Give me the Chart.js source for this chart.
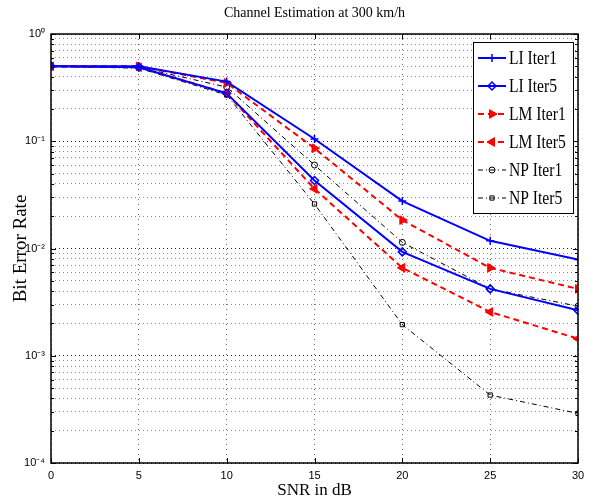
<!DOCTYPE html>
<html>
<head>
<meta charset="utf-8">
<script src="https://cdn.jsdelivr.net/npm/chart.js@4.4.1/dist/chart.umd.min.js"></script>
<style>
  html, body { margin: 0; padding: 0; background: #fff; }
  #wrap { width: 595px; height: 501px; }
</style>
</head>
<body>
<div id="wrap"><canvas id="myChart" width="595" height="501"></canvas></div>
<script>
// SNR points (dB)
const snr = [0, 5, 10, 15, 20, 25, 30];

// BER values
const liIter1 = [0.50, 0.50, 0.36, 0.105, 0.0277, 0.0118, 0.0079];
const liIter5 = [0.50, 0.49, 0.28, 0.043, 0.0093, 0.0042, 0.00265];
const lmIter1 = [0.50, 0.50, 0.35, 0.086, 0.0184, 0.0066, 0.0042];
const lmIter5 = [0.50, 0.49, 0.28, 0.036, 0.0066, 0.00256, 0.00144];
const npIter1 = [0.50, 0.49, 0.32, 0.060, 0.0114, 0.0042, 0.0029];
const npIter5 = [0.50, 0.48, 0.27, 0.026, 0.00195, 0.00043, 0.00029];

const xTicks = [0, 5, 10, 15, 20, 25, 30];
const yDecades = [-4, -3, -2, -1, 0];
const chartTitle = 'Channel Estimation at 300 km/h';

const serif = '"Liberation Serif", "Times New Roman", serif';
const sans = '"Liberation Sans Narrow", "Liberation Sans", Arial, sans-serif';

const sup = {'-': '\u207B', '0': '\u2070', '1': '\u00B9', '2': '\u00B2', '3': '\u00B3', '4': '\u2074'};
function pow10Label(e) {
  return '10' + String(e).split('').map(c => sup[c]).join('');
}
function isDecade(v) {
  return Math.abs(Math.log10(v) - Math.round(Math.log10(v))) < 1e-9;
}

function pts(arr) {
  return snr.map((x, i) => ({x: x, y: arr[i]}));
}

const datasets = [
  {label: 'LI Iter1', data: pts(liIter1), borderColor: '#0000ff', backgroundColor: '#0000ff',
   borderWidth: 2, pointStyle: 'cross', pointRadius: 4, pointBorderWidth: 1.5},
  {label: 'LI Iter5', data: pts(liIter5), borderColor: '#0000ff', backgroundColor: 'rgba(0,0,0,0)',
   borderWidth: 2, pointStyle: 'rectRot', pointRadius: 4, pointBorderWidth: 1.5},
  {label: 'LM Iter1', data: pts(lmIter1), borderColor: '#ff0000', backgroundColor: '#ff0000',
   borderWidth: 2, borderDash: [6, 4], pointStyle: 'triangle', pointRotation: 90, pointRadius: 5, pointBorderWidth: 1},
  {label: 'LM Iter5', data: pts(lmIter5), borderColor: '#ff0000', backgroundColor: '#ff0000',
   borderWidth: 2, borderDash: [6, 4], pointStyle: 'triangle', pointRotation: -90, pointRadius: 5, pointBorderWidth: 1},
  {label: 'NP Iter1', data: pts(npIter1), borderColor: '#000000', backgroundColor: 'rgba(0,0,0,0)',
   borderWidth: 1, borderDash: [5, 3, 1, 3], pointStyle: 'circle', pointRadius: 3, pointBorderWidth: 1},
  {label: 'NP Iter5', data: pts(npIter5), borderColor: '#000000', backgroundColor: 'rgba(0,0,0,0)',
   borderWidth: 1, borderDash: [5, 3, 1, 3], pointStyle: 'rect', pointRadius: 3, pointBorderWidth: 1}
];
datasets.forEach(d => {
  d.pointBackgroundColor = d.backgroundColor;
  d.pointBorderColor = d.borderColor;
  d.tension = 0;
  d.fill = false;
});

// box, inward tick marks, title and legend, MATLAB style
const frame = {
  id: 'frame',
  afterDatasetsDraw(chart) {
    const ctx = chart.ctx, a = chart.chartArea;
    const xs = chart.scales.x, ys = chart.scales.y;
    ctx.save();
    ctx.strokeStyle = '#000';
    ctx.lineWidth = 1;
    ctx.beginPath();
    xTicks.forEach(v => {
      const px = Math.round(xs.getPixelForValue(v)) + 0.5;
      ctx.moveTo(px, a.bottom); ctx.lineTo(px, a.bottom - 5);
      ctx.moveTo(px, a.top); ctx.lineTo(px, a.top + 5);
    });
    ys.ticks.forEach(t => {
      const py = Math.round(ys.getPixelForValue(t.value)) + 0.5;
      const len = isDecade(t.value) ? 5 : 3;
      ctx.moveTo(a.left, py); ctx.lineTo(a.left + len, py);
      ctx.moveTo(a.right, py); ctx.lineTo(a.right - len, py);
    });
    ctx.stroke();
    ctx.lineWidth = 1.5;
    ctx.strokeRect(a.left, a.top, a.right - a.left, a.bottom - a.top);

    // title, centred over the axes
    ctx.fillStyle = '#000';
    ctx.font = '14px ' + serif;
    ctx.textAlign = 'center';
    ctx.textBaseline = 'middle';
    ctx.fillText(chartTitle, (a.left + a.right) / 2, 13);

    // legend box
    const lx = a.right - 105, ly = a.top + 8, lw = 100, lh = 171;
    ctx.fillStyle = '#fff';
    ctx.fillRect(lx, ly, lw, lh);
    ctx.lineWidth = 1;
    ctx.strokeStyle = '#000';
    ctx.strokeRect(lx + 0.5, ly + 0.5, lw, lh);
    ctx.textAlign = 'left';
    chart.data.datasets.forEach((d, i) => {
      const cy = ly + 16 + i * 28;
      ctx.save();
      ctx.strokeStyle = d.borderColor;
      ctx.lineWidth = d.borderWidth;
      ctx.setLineDash(d.borderDash || []);
      ctx.beginPath();
      ctx.moveTo(lx + 5, cy); ctx.lineTo(lx + 33, cy);
      ctx.stroke();
      ctx.setLineDash([]);
      ctx.fillStyle = d.backgroundColor;
      ctx.lineWidth = d.pointBorderWidth;
      Chart.helpers.drawPoint(ctx, {pointStyle: d.pointStyle, radius: d.pointRadius,
        rotation: d.pointRotation || 0, borderWidth: d.pointBorderWidth}, lx + 19, cy);
      ctx.restore();
      ctx.save();
      ctx.fillStyle = '#000';
      ctx.font = '19px ' + serif;
      ctx.translate(lx + 36, cy + 1);
      ctx.scale(0.82, 1);
      ctx.fillText(d.label, 0, 0);
      ctx.restore();
    });
    ctx.restore();
  }
};

const gridColor = c => (c.tick && isDecade(c.tick.value)) ? 'rgba(0,0,0,0.85)' : 'rgba(0,0,0,0.45)';

const config = {
  type: 'line',
  data: {datasets: datasets},
  options: {
    responsive: false,
    animation: false,
    layout: {padding: {top: 34, right: 17, left: 0, bottom: 0}},
    plugins: {
      legend: {display: false},
      tooltip: {enabled: false},
      title: {display: false}
    },
    scales: {
      x: {
        type: 'linear',
        min: 0, max: 30,
        afterBuildTicks: s => { s.ticks = xTicks.map(v => ({value: v})); },
        afterFit: s => { s.height = 38; },
        grid: {color: 'rgba(0,0,0,0.6)', drawTicks: false, lineWidth: 1},
        border: {display: false, dash: [1, 4]},
        ticks: {color: '#000', padding: 6, maxRotation: 0, font: {family: sans, size: 11}},
        title: {display: true, text: 'SNR in dB', color: '#000', padding: {top: 0, bottom: 0},
          font: {family: serif, size: 17}}
      },
      y: {
        type: 'logarithmic',
        min: 1e-4, max: 1,
        afterBuildTicks: s => {
          const t = [];
          for (let e = -4; e < 0; e++) for (let m = 1; m < 10; m++) t.push({value: m * Math.pow(10, e)});
          t.push({value: 1});
          s.ticks = t;
        },
        afterFit: s => { s.width = 51; },
        grid: {color: gridColor, drawTicks: false, lineWidth: 1},
        border: {display: false, dash: [1, 3]},
        ticks: {
          color: '#000', padding: 6, autoSkip: false,
          font: {family: sans, size: 11},
          callback: v => {
            const e = Math.round(Math.log10(v));
            return isDecade(v) && yDecades.includes(e) ? pow10Label(e) : '';
          }
        },
        title: {display: true, text: 'Bit Error Rate', color: '#000', padding: {top: 10, bottom: 0},
          font: {family: serif, size: 19}}
      }
    }
  },
  plugins: [frame]
};

const myChart = new Chart(document.getElementById('myChart'), config);
</script>
</body>
</html>
